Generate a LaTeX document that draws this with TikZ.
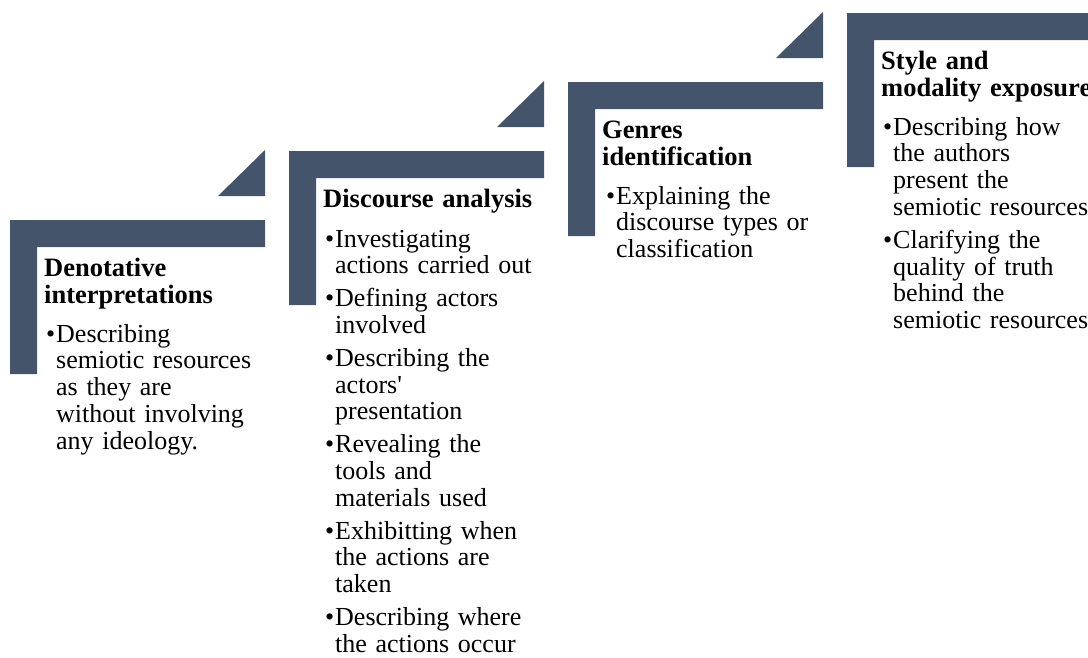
\documentclass[tikz,border=0pt]{standalone}
\usepackage{fontspec}
\setmainfont{Liberation Serif}
\definecolor{slate}{HTML}{44546A}
\newcommand{\lnbrk}{\hfil\break}
\newcommand{\bitem}[1]{\parskip=6pt\hangindent=10pt\hangafter=1\noindent\makebox[10pt][l]{•}#1\par}
\tikzset{
  stepshape/.style={fill=slate, draw=none},
  titletext/.style={anchor=base west, inner sep=0pt, text width=260pt, font=\fontsize{26.5}{27}\selectfont\bfseries},
  bodytext/.style={anchor=base west, inner sep=0pt, text width=300pt, font=\fontsize{26}{26.8}\selectfont},
}
\begin{document}
\begin{tikzpicture}[x=1pt,y=-1pt]
\useasboundingbox (0,0) rectangle (1088,657);
\clip (0,0) rectangle (1088,657);
\foreach \X/\T in {10/220, 289/151, 568/82, 847/13} {
  \fill[stepshape] (\X,\T) -- ++(255,0) -- ++(0,27) -- ++(-228,0) -- ++(0,127) -- ++(-27,0) -- cycle;
  \fill[stepshape] (\X+208,\T-24) -- (\X+255,\T-24) -- (\X+255,\T-70) -- cycle;
}
% step 1
\node[titletext] (t1) at (44,276) {Denotative\lnbrk interpretations};
\node[bodytext] (b1) at (46,342) {\bitem{Describing\lnbrk semiotic resources\lnbrk as they are\lnbrk without involving\lnbrk any ideology.}};
% step 2
\node[titletext] (t2) at (323,207) {Discourse analysis};
\node[bodytext] (b2) at (325,247) {\bitem{Investigating\lnbrk actions carried out}\bitem{Defining actors\lnbrk involved}\bitem{Describing the\lnbrk actors\textquotesingle\lnbrk presentation}\bitem{Revealing the\lnbrk tools and\lnbrk materials used}\bitem{Exhibitting when\lnbrk the actions are\lnbrk taken}\bitem{Describing where\lnbrk the actions occur}};
% step 3
\node[titletext] (t3) at (602,138) {Genres\lnbrk identification};
\node[bodytext] (b3) at (606,204) {\bitem{Explaining the\lnbrk discourse types or\lnbrk classification}};
% step 4
\node[titletext] (t4) at (881,69) {Style and\lnbrk modality exposure};
\node[bodytext] (b4) at (883,135) {\bitem{Describing how\lnbrk the authors\lnbrk present the\lnbrk semiotic resources}\bitem{Clarifying the\lnbrk quality of truth\lnbrk behind the\lnbrk semiotic resources}};
\end{tikzpicture}
\end{document}
